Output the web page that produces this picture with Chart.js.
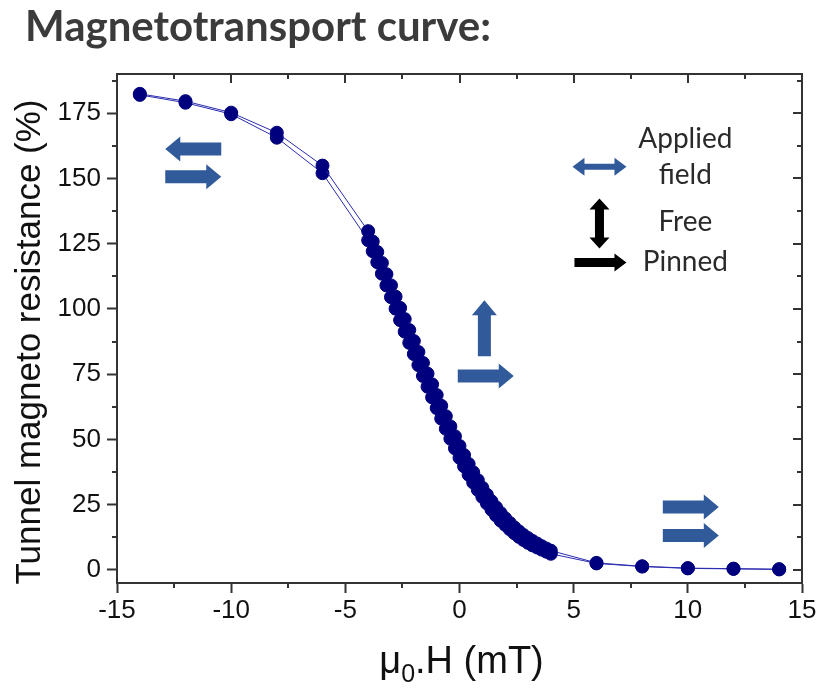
<!DOCTYPE html>
<html>
<head>
<meta charset="utf-8">
<script src="https://cdn.jsdelivr.net/npm/chart.js@4.4.1/dist/chart.umd.min.js"></script>
<style>
  body { margin: 0; background: #fff; }
  canvas { display: block; }
</style>
</head>
<body>
<canvas id="tmr-chart" width="821" height="694"></canvas>
<script>
// applied field (mT), same steps for both sweeps
const fieldSteps = [
  -14, -12, -10, -8, -6,
  -4.0, -3.8, -3.6, -3.4, -3.2, -3.0, -2.8, -2.6, -2.4, -2.2,
  -2.0, -1.8, -1.6, -1.4, -1.2, -1.0, -0.8, -0.6, -0.4, -0.2,
  0.0, 0.2, 0.4, 0.6, 0.8, 1.0, 1.2, 1.4, 1.6, 1.8,
  2.0, 2.2, 2.4, 2.6, 2.8, 3.0, 3.2, 3.4, 3.6, 3.8, 4.0,
  6, 8, 10, 12, 14
];

// tunnel magnetoresistance (%), sweep towards negative field
const tmrSweepDown = [
  182.4, 179.6, 175.2, 167.5, 154.9,
  129.8, 125.8, 121.8, 117.6, 113.3, 109.0, 104.7, 100.4, 96.1, 91.9,
  87.7, 83.5, 79.3, 75.2, 71.1, 67.0, 62.9, 58.9, 55.0, 51.2,
  47.5, 44.0, 40.6, 37.4, 34.4, 31.5, 28.8, 26.3, 24.0, 21.8,
  19.8, 18.0, 16.3, 14.8, 13.4, 12.2, 11.1, 10.1, 9.1, 8.2, 7.4,
  2.7, 1.4, 0.7, 0.5, 0.3
];

// tunnel magnetoresistance (%), sweep towards positive field
const tmrSweepUp = [
  182.0, 179.0, 174.6, 165.6, 152.0,
  126.3, 122.1, 117.9, 113.5, 109.0, 104.5, 100.1, 95.7, 91.3, 87.0,
  82.7, 78.5, 74.3, 70.2, 66.1, 62.0, 58.0, 54.1, 50.3, 46.6,
  43.0, 39.7, 36.5, 33.5, 30.7, 28.0, 25.5, 23.1, 20.9, 18.9,
  17.3, 15.6, 14.1, 12.7, 11.5, 10.4, 9.4, 8.6, 7.8, 7.0, 6.2,
  2.5, 1.3, 0.6, 0.4, 0.2
];

const xTicks = [-15, -10, -5, 0, 5, 10, 15];
const xMinorTicks = [-12.5, -7.5, -2.5, 2.5, 7.5, 12.5];
const yTicks = [0, 25, 50, 75, 100, 125, 150, 175];
const yMinorTicks = [12.5, 37.5, 62.5, 87.5, 112.5, 137.5, 162.5, 187.5];

const AXIS_FONT = '"Liberation Sans", Arial, sans-serif';
const NOTE_FONT = 'Lato, "Open Sans", sans-serif';
const FRAME = '#333';
const BLUE_ARROW = '#315a9b';

function toPoints(ys) {
  return fieldSteps.map((x, i) => ({ x: x, y: ys[i] }));
}

// plain block arrow, centred on (cx, cy), pointing along angle
function blockArrow(ctx, cx, cy, len, bodyW, headW, headLen, angle, fill) {
  const h = len / 2;
  ctx.save();
  ctx.translate(cx, cy);
  ctx.rotate(angle);
  ctx.beginPath();
  ctx.moveTo(-h, -bodyW / 2);
  ctx.lineTo(h - headLen, -bodyW / 2);
  ctx.lineTo(h - headLen, -headW / 2);
  ctx.lineTo(h, 0);
  ctx.lineTo(h - headLen, headW / 2);
  ctx.lineTo(h - headLen, bodyW / 2);
  ctx.lineTo(-h, bodyW / 2);
  ctx.closePath();
  ctx.fillStyle = fill;
  ctx.fill();
  ctx.restore();
}

function doubleArrow(ctx, cx, cy, len, bodyW, headW, headLen, angle, fill) {
  const h = len / 2;
  ctx.save();
  ctx.translate(cx, cy);
  ctx.rotate(angle);
  ctx.beginPath();
  ctx.moveTo(-h, 0);
  ctx.lineTo(-h + headLen, -headW / 2);
  ctx.lineTo(-h + headLen, -bodyW / 2);
  ctx.lineTo(h - headLen, -bodyW / 2);
  ctx.lineTo(h - headLen, -headW / 2);
  ctx.lineTo(h, 0);
  ctx.lineTo(h - headLen, headW / 2);
  ctx.lineTo(h - headLen, bodyW / 2);
  ctx.lineTo(-h + headLen, bodyW / 2);
  ctx.lineTo(-h + headLen, headW / 2);
  ctx.closePath();
  ctx.fillStyle = fill;
  ctx.fill();
  ctx.restore();
}

// magnetisation arrows placed in field / TMR units
const stateArrows = [
  { x: -11.66, y: 161.3, dir: Math.PI },
  { x: -11.66, y: 150.6, dir: 0 },
  { x: 1.09, y: 92.6, dir: -Math.PI / 2 },
  { x: 1.15, y: 74.3, dir: 0 },
  { x: 10.13, y: 24.1, dir: 0 },
  { x: 10.13, y: 13.2, dir: 0 }
];

const keyLabels = [
  { text: 'Applied', x: 9.89, y: 161.5 },
  { text: 'field', x: 9.89, y: 147.8 },
  { text: 'Free', x: 9.89, y: 129.8 },
  { text: 'Pinned', x: 9.89, y: 114.5 }
];

const decorations = {
  id: 'decorations',
  afterDraw(chart) {
    const ctx = chart.ctx;
    const a = chart.chartArea;
    const xs = chart.scales.x;
    const ys = chart.scales.y;

    ctx.save();
    // top and right frame with inward ticks
    ctx.strokeStyle = FRAME;
    ctx.lineWidth = 2;
    ctx.beginPath();
    ctx.moveTo(a.left, a.top);
    ctx.lineTo(a.right, a.top);
    ctx.lineTo(a.right, a.bottom);
    ctx.stroke();

    ctx.beginPath();
    xTicks.forEach(v => {
      const px = Math.round(xs.getPixelForValue(v));
      ctx.moveTo(px, a.top); ctx.lineTo(px, a.top + 9);
    });
    xMinorTicks.forEach(v => {
      const px = Math.round(xs.getPixelForValue(v));
      ctx.moveTo(px, a.top); ctx.lineTo(px, a.top + 5);
      ctx.moveTo(px, a.bottom); ctx.lineTo(px, a.bottom + 5);
    });
    yTicks.forEach(v => {
      const py = Math.round(ys.getPixelForValue(v));
      ctx.moveTo(a.right, py); ctx.lineTo(a.right - 9, py);
    });
    yMinorTicks.forEach(v => {
      const py = Math.round(ys.getPixelForValue(v));
      ctx.moveTo(a.right, py); ctx.lineTo(a.right - 5, py);
      ctx.moveTo(a.left, py); ctx.lineTo(a.left - 5, py);
    });
    ctx.stroke();

    // headline
    ctx.fillStyle = '#3b3b3b';
    ctx.font = 'bold 42px ' + NOTE_FONT;
    ctx.textAlign = 'left';
    ctx.textBaseline = 'alphabetic';
    ctx.fillText('Magnetotransport curve:', 25, 41);

    // axis titles
    ctx.fillStyle = '#111';
    ctx.font = '35px ' + AXIS_FONT;
    ctx.save();
    ctx.translate(40, 342);
    ctx.rotate(-Math.PI / 2);
    ctx.textAlign = 'center';
    ctx.fillText('Tunnel magneto resistance (%)', 0, 0);
    ctx.restore();

    const mu = 'μ', sub = '0', rest = '.H (mT)';
    ctx.font = '38px ' + AXIS_FONT;
    const wMu = ctx.measureText(mu).width;
    const wRest = ctx.measureText(rest).width;
    ctx.font = '25px ' + AXIS_FONT;
    const wSub = ctx.measureText(sub).width;
    let tx = (a.left + a.right) / 2 + 2 - (wMu + wSub + wRest) / 2;
    const base = 673;
    ctx.textAlign = 'left';
    ctx.font = '38px ' + AXIS_FONT;
    ctx.fillText(mu, tx, base);
    tx += wMu;
    ctx.font = '25px ' + AXIS_FONT;
    ctx.fillText(sub, tx, base + 9);
    tx += wSub;
    ctx.font = '38px ' + AXIS_FONT;
    ctx.fillText(rest, tx, base);

    // magnetisation state arrows
    stateArrows.forEach(s => {
      blockArrow(ctx, xs.getPixelForValue(s.x), ys.getPixelForValue(s.y),
        56, 13, 25, 15, s.dir, BLUE_ARROW);
    });

    // key: applied field / free / pinned
    const kx = xs.getPixelForValue(6.13);
    doubleArrow(ctx, kx, ys.getPixelForValue(154.5), 54, 6, 18, 12, 0, BLUE_ARROW);
    doubleArrow(ctx, kx, ys.getPixelForValue(132.7), 50, 9, 20, 11, Math.PI / 2, '#000');
    blockArrow(ctx, kx + 1, ys.getPixelForValue(117.8), 52, 9, 18, 12, 0, '#000');

    ctx.fillStyle = '#2a2a2a';
    ctx.font = '28px ' + NOTE_FONT;
    ctx.textAlign = 'center';
    keyLabels.forEach(k => {
      ctx.fillText(k.text, xs.getPixelForValue(k.x), ys.getPixelForValue(k.y));
    });
    ctx.restore();
  }
};

const branchStyle = {
  showLine: true,
  borderColor: '#2b2bb0',
  borderWidth: 1,
  pointRadius: 6.5,
  pointHoverRadius: 6.5,
  pointBackgroundColor: '#00007f',
  pointBorderColor: '#00007f',
  pointBorderWidth: 1,
  tension: 0
};

new Chart(document.getElementById('tmr-chart'), {
  type: 'scatter',
  data: {
    datasets: [
      Object.assign({ label: 'sweep down', data: toPoints(tmrSweepDown) }, branchStyle),
      Object.assign({ label: 'sweep up', data: toPoints(tmrSweepUp) }, branchStyle)
    ]
  },
  options: {
    responsive: false,
    animation: false,
    devicePixelRatio: 1,
    layout: { padding: { top: 74, right: 19, left: 0, bottom: 0 } },
    plugins: {
      legend: { display: false },
      tooltip: { enabled: false }
    },
    scales: {
      x: {
        type: 'linear',
        min: -15,
        max: 15,
        afterBuildTicks: axis => { axis.ticks = xTicks.map(v => ({ value: v })); },
        afterFit: axis => { axis.height = 111; },
        ticks: {
          color: '#111',
          padding: 2,
          maxRotation: 0,
          font: { family: AXIS_FONT, size: 26 }
        },
        grid: { drawOnChartArea: false, tickLength: 10, tickWidth: 2, tickColor: FRAME },
        border: { color: FRAME, width: 2 }
      },
      y: {
        type: 'linear',
        min: -5,
        max: 190,
        afterBuildTicks: axis => { axis.ticks = yTicks.map(v => ({ value: v })); },
        afterFit: axis => { axis.width = 117; },
        ticks: {
          color: '#111',
          padding: 6,
          font: { family: AXIS_FONT, size: 26 }
        },
        grid: { drawOnChartArea: false, tickLength: 10, tickWidth: 2, tickColor: FRAME },
        border: { color: FRAME, width: 2 }
      }
    }
  },
  plugins: [decorations]
});
</script>
</body>
</html>
